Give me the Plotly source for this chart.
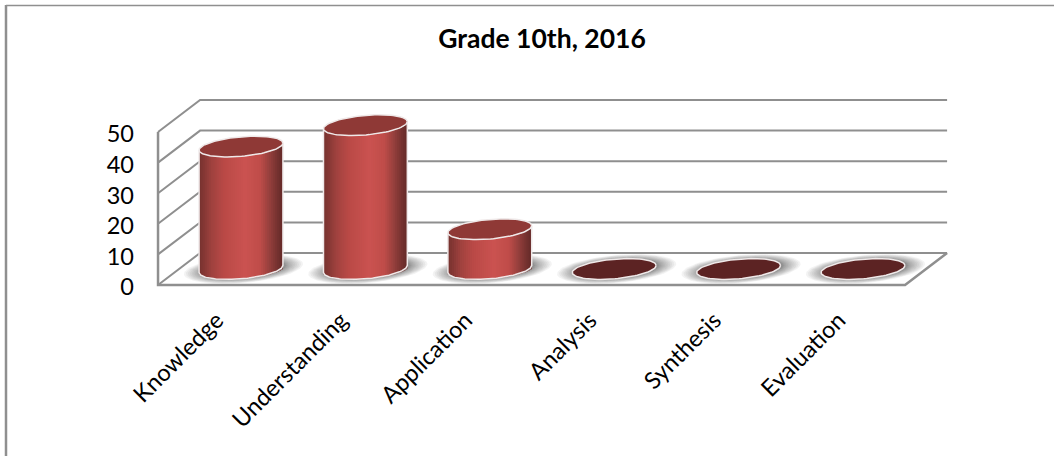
import numpy as np
import plotly.graph_objects as go

categories = ["Knowledge", "Understanding", "Application", "Analysis", "Synthesis", "Evaluation"]
values = [40, 47, 13, 0, 0, 0]
y_ticks = [0, 10, 20, 30, 40, 50]
title = "Grade 10th, 2016"

# depth of the fake 3D box and cylinder shape, in axis units
DEPTH_X, DEPTH_Y = 0.338, 10.46
FRONT_L, FRONT_R = -0.667, 5.338
RX, RY, TILT = 0.337, 3.2, 1.15      # half width, half height, upward skew to the right
BASE = DEPTH_Y / 2
LABEL_NUDGE = 0.7                    # y tick labels sit slightly below their gridlines
X_RANGE = [(136 - 241) / 124.4, (1000 - 241) / 124.4]
Y_RANGE = [-9 / 3.06, 225 / 3.06]
PLOT_W, PLOT_H = 864, 234

GREY = "#8f8f8f"
STOPS_U = [-1, -0.88, -0.7, -0.4, 0.1, 0.45, 0.68, 0.9, 1]
STOPS_RGB = [(118, 50, 48), (134, 56, 53), (160, 66, 63), (186, 74, 71), (203, 83, 81),
             (192, 77, 74), (150, 64, 61), (112, 48, 46), (104, 44, 42)]
CAP = "#8f3936"
ZERO_CAP = "#5c2323"
EDGE = "#efe9e9"


def ellipse(cx, cy, scale=1.0, n=90):
    t = np.linspace(0, 2 * np.pi, n)
    return (cx + scale * RX * np.cos(t),
            cy + scale * (RY * np.sin(t) + TILT * np.cos(t)))


def lower_arc(u, cy):
    return cy - RY * np.sqrt(np.clip(1 - u ** 2, 0, 1)) + TILT * u


fig = go.Figure()

# wall and floor lines
for v in y_ticks:
    fig.add_trace(go.Scatter(
        x=[FRONT_L, FRONT_L + DEPTH_X, FRONT_R + DEPTH_X],
        y=[v, v + DEPTH_Y, v + DEPTH_Y],
        mode="lines", line=dict(color=GREY, width=2), hoverinfo="skip", showlegend=False))
fig.add_trace(go.Scatter(
    x=[FRONT_L, FRONT_L, FRONT_R, FRONT_R + DEPTH_X],
    y=[y_ticks[-1], 0, 0, DEPTH_Y],
    mode="lines", line=dict(color=GREY, width=2.5), hoverinfo="skip", showlegend=False))

# soft floor shadows: rings packed more tightly towards the base
for i in range(len(categories)):
    for s in 1 + 0.42 * np.linspace(1, 0, 14) ** 1.6:
        xs, ys = ellipse(i + 0.02, BASE, s)
        ys = np.clip(ys, 0.4, None)
        fig.add_trace(go.Scatter(
            x=xs, y=ys, mode="lines", line=dict(width=0), fill="toself",
            fillcolor="rgba(90,90,90,0.075)", hoverinfo="skip", showlegend=False))

# cylinder bodies as thin overlapping gradient strips
edges = np.linspace(-1, 1, 43)
strip_u = (edges[:-1] + edges[1:]) / 2
strip_left = edges[:-1] * RX
strip_w = np.minimum(2 * (edges[1] - edges[0]) * RX, (1 - edges[:-1]) * RX)
strip_rgb = [np.interp(strip_u, STOPS_U, [c[k] for c in STOPS_RGB]) for k in range(3)]
strip_col = [f"rgb({int(r)},{int(g)},{int(b)})" for r, g, b in zip(*strip_rgb)]
for i, v in enumerate(values):
    if v <= 0:
        continue
    low = lower_arc(strip_u, BASE)
    high = lower_arc(strip_u, BASE + v)
    fig.add_trace(go.Bar(
        x=i + strip_left, y=high - low, base=low, width=strip_w, offset=0,
        marker=dict(color=strip_col, line=dict(width=0)),
        xaxis="x2", yaxis="y2", hoverinfo="skip", showlegend=False))
    # outline of the body
    u = np.linspace(-1, 1, 60)
    fig.add_trace(go.Scatter(
        x=np.r_[-1, u, 1] * RX + i,
        y=np.r_[BASE + v - TILT, lower_arc(u, BASE), BASE + v + TILT],
        mode="lines", line=dict(color=EDGE, width=1.5),
        xaxis="x2", yaxis="y2", hoverinfo="skip", showlegend=False))

# top caps
for i, v in enumerate(values):
    xs, ys = ellipse(i, BASE + v)
    fig.add_trace(go.Scatter(
        x=xs, y=ys, mode="lines", line=dict(color=EDGE, width=1.5),
        fill="toself", fillcolor=CAP if v > 0 else ZERO_CAP,
        xaxis="x2", yaxis="y2", hoverinfo="skip", showlegend=False))

fig.update_layout(
    width=1054, height=456, autosize=False,
    paper_bgcolor="white", plot_bgcolor="rgba(0,0,0,0)",
    margin=dict(l=136, r=54, t=60, b=162),
    barmode="overlay", showlegend=False,
    font=dict(family="Lato, Carlito, sans-serif", color="#000000"),
    title=dict(text=f"<b>{title}</b>", x=542 / 1054, xanchor="center", y=1 - 39 / 456, yanchor="middle",
               font=dict(size=26.5, family="Lato, sans-serif", color="#000000")),
    xaxis=dict(range=X_RANGE, showgrid=False, zeroline=False, showline=False, ticks="",
               tickmode="array", tickvals=[i - 0.195 for i in range(len(categories))],
               ticktext=categories, tickangle=-45, tickfont=dict(size=23.5), ticklabelstandoff=7),
    yaxis=dict(range=Y_RANGE, showgrid=False, zeroline=False, showline=False, ticks="",
               tickmode="array", tickvals=[v - LABEL_NUDGE for v in y_ticks],
               ticktext=[str(v) for v in y_ticks],
               tickfont=dict(size=23.5), ticklabelstandoff=1),
    xaxis2=dict(range=X_RANGE, overlaying="x", visible=False),
    yaxis2=dict(range=Y_RANGE, overlaying="y", visible=False),
    shapes=[
        dict(type="line", xref="paper", yref="paper", x0=-130 / PLOT_W, x1=-130 / PLOT_W,
             y0=-162 / PLOT_H, y1=(PLOT_H + 55) / PLOT_H, line=dict(color=GREY, width=2.5)),
        dict(type="line", xref="paper", yref="paper", x0=-130 / PLOT_W, x1=(PLOT_W + 54) / PLOT_W,
             y0=(PLOT_H + 54.5) / PLOT_H, y1=(PLOT_H + 54.5) / PLOT_H, line=dict(color=GREY, width=1.5)),
    ],
)

fig.write_html("out.html", config=dict(displayModeBar=False),
               post_script="document.body.style.margin='0';document.body.style.overflow='hidden';")
